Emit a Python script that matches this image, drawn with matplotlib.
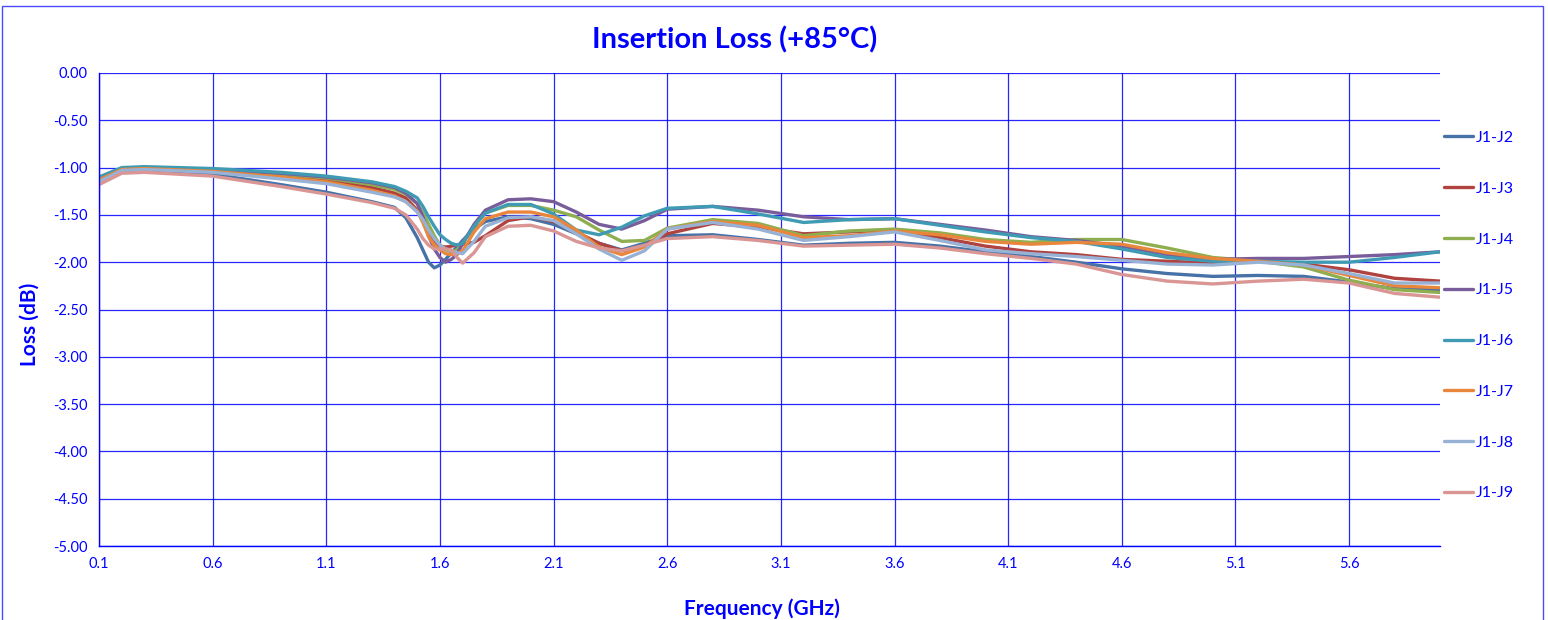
import numpy as np
import matplotlib
matplotlib.use("Agg")
import matplotlib.pyplot as plt
from matplotlib.patches import Rectangle

# Frequency points (GHz)
freq = [0.10, 0.20, 0.30, 0.60, 0.90, 1.10, 1.30, 1.40, 1.45, 1.50,
        1.525, 1.55, 1.575, 1.60, 1.625, 1.65, 1.675, 1.70, 1.75, 1.80,
        1.90, 2.00, 2.10, 2.20, 2.30, 2.40, 2.50, 2.60, 2.80, 3.00,
        3.20, 3.40, 3.60, 3.80, 4.00, 4.20, 4.40, 4.60, 4.80, 5.00,
        5.20, 5.40, 5.60, 5.80, 6.00]

# Insertion loss (dB) per path
j1_j2 = [-1.14, -1.03, -1.03, -1.07, -1.18, -1.26, -1.36, -1.42, -1.53, -1.74,
         -1.87, -2.00, -2.06, -2.03, -1.97, -1.90, -1.84, -1.77, -1.65, -1.57,
         -1.52, -1.54, -1.60, -1.70, -1.80, -1.87, -1.80, -1.72, -1.71, -1.76,
         -1.82, -1.80, -1.79, -1.83, -1.89, -1.94, -2.00, -2.07, -2.12, -2.15,
         -2.14, -2.15, -2.21, -2.28, -2.29]
j1_j3 = [-1.13, -1.02, -1.01, -1.03, -1.08, -1.13, -1.21, -1.27, -1.32, -1.45,
         -1.55, -1.68, -1.77, -1.83, -1.84, -1.83, -1.82, -1.81, -1.79, -1.72,
         -1.56, -1.52, -1.57, -1.68, -1.80, -1.88, -1.83, -1.70, -1.59, -1.63,
         -1.70, -1.68, -1.66, -1.74, -1.83, -1.89, -1.92, -1.97, -1.99, -2.01,
         -1.99, -2.02, -2.08, -2.17, -2.20]
j1_j4 = [-1.12, -1.01, -1.00, -1.02, -1.07, -1.11, -1.18, -1.23, -1.28, -1.38,
         -1.48, -1.60, -1.72, -1.82, -1.87, -1.89, -1.87, -1.80, -1.62, -1.48,
         -1.40, -1.40, -1.45, -1.52, -1.66, -1.78, -1.77, -1.64, -1.55, -1.59,
         -1.72, -1.67, -1.65, -1.69, -1.76, -1.79, -1.76, -1.76, -1.85, -1.95,
         -1.99, -2.05, -2.19, -2.29, -2.32]
j1_j5 = [-1.12, -1.01, -1.00, -1.02, -1.06, -1.10, -1.16, -1.21, -1.27, -1.38,
         -1.52, -1.72, -1.86, -1.95, -2.00, -1.97, -1.92, -1.80, -1.60, -1.45,
         -1.34, -1.33, -1.36, -1.47, -1.60, -1.65, -1.56, -1.44, -1.41, -1.45,
         -1.52, -1.55, -1.54, -1.60, -1.66, -1.73, -1.77, -1.83, -1.92, -1.97,
         -1.96, -1.96, -1.94, -1.92, -1.89]
j1_j6 = [-1.10, -1.00, -0.99, -1.01, -1.05, -1.09, -1.15, -1.20, -1.25, -1.32,
         -1.41, -1.52, -1.62, -1.71, -1.76, -1.80, -1.82, -1.80, -1.62, -1.48,
         -1.39, -1.39, -1.49, -1.66, -1.71, -1.63, -1.51, -1.43, -1.41, -1.49,
         -1.58, -1.55, -1.54, -1.61, -1.68, -1.74, -1.78, -1.86, -1.95, -1.99,
         -1.99, -2.00, -2.00, -1.95, -1.89]
j1_j7 = [-1.13, -1.02, -1.01, -1.04, -1.10, -1.15, -1.24, -1.30, -1.36, -1.46,
         -1.58, -1.73, -1.82, -1.87, -1.91, -1.92, -1.91, -1.88, -1.68, -1.54,
         -1.47, -1.47, -1.52, -1.66, -1.84, -1.92, -1.84, -1.65, -1.57, -1.61,
         -1.74, -1.72, -1.67, -1.71, -1.78, -1.81, -1.79, -1.81, -1.90, -1.96,
         -1.99, -2.03, -2.14, -2.25, -2.27]
j1_j8 = [-1.15, -1.03, -1.02, -1.05, -1.12, -1.17, -1.26, -1.31, -1.36, -1.47,
         -1.55, -1.66, -1.75, -1.82, -1.86, -1.88, -1.90, -1.91, -1.78, -1.62,
         -1.53, -1.52, -1.56, -1.70, -1.86, -1.98, -1.88, -1.65, -1.58, -1.65,
         -1.77, -1.73, -1.68, -1.77, -1.87, -1.91, -1.94, -1.98, -2.02, -2.03,
         -2.00, -2.03, -2.12, -2.22, -2.22]
j1_j9 = [-1.18, -1.06, -1.05, -1.09, -1.20, -1.28, -1.37, -1.43, -1.50, -1.65,
         -1.75, -1.82, -1.86, -1.86, -1.86, -1.87, -1.95, -2.01, -1.90, -1.73,
         -1.62, -1.61, -1.67, -1.78, -1.85, -1.88, -1.82, -1.75, -1.73, -1.77,
         -1.83, -1.82, -1.81, -1.85, -1.91, -1.96, -2.02, -2.13, -2.20, -2.23,
         -2.20, -2.18, -2.22, -2.33, -2.37]

labels = ["J1-J2", "J1-J3", "J1-J4", "J1-J5", "J1-J6", "J1-J7", "J1-J8", "J1-J9"]
series = [j1_j2, j1_j3, j1_j4, j1_j5, j1_j6, j1_j7, j1_j8, j1_j9]
colors = ["#4672A8", "#B0423F", "#8FAE50", "#795D9B", "#3F9BB3",
          "#E8863C", "#98B2D6", "#D99694"]

y_ticks = np.arange(0, -5.01, -0.5)
x_ticks = [0.1, 0.6, 1.1, 1.6, 2.1, 2.6, 3.1, 3.6, 4.1, 4.6, 5.1, 5.6]

blue = "#0000FF"
plt.rcParams["font.family"] = ["Lato", "DejaVu Sans"]

fig = plt.figure(figsize=(15.48, 6.2), dpi=100)
ax = fig.add_axes([99 / 1548, 1 - 546 / 620, (1440 - 99) / 1548, (546 - 73) / 620])

for vals, lab, col in zip(series, labels, colors):
    ax.plot(freq, vals, color=col, linewidth=2.4, label=lab,
            solid_capstyle="round", solid_joinstyle="round")

ax.set_xlim(0.1, 6.0)
ax.set_ylim(-5.0, 0.0)
ax.set_xticks(x_ticks)
ax.set_xticklabels([f"{v:.1f}" for v in x_ticks])
ax.set_yticks(y_ticks)
ax.set_yticklabels([f"{v:.2f}" for v in y_ticks])
ax.tick_params(length=0, colors=blue, labelsize=10.5, pad=8)
ax.grid(True, color=blue, linewidth=0.9, alpha=0.85)
ax.set_axisbelow(True)
for s in ["top", "right"]:
    ax.spines[s].set_visible(False)
for s in ["left", "bottom"]:
    ax.spines[s].set_color(blue)
    ax.spines[s].set_linewidth(1.0)

ax.set_xlabel("Frequency (GHz)", color=blue, fontsize=15, fontweight="bold", va="center")
ax.set_ylabel("Loss (dB)", color=blue, fontsize=15, fontweight="bold", va="center")
ax.xaxis.set_label_coords((762 - 99) / 1341, (546 - 609) / 473)
ax.yaxis.set_label_coords((30 - 99) / 1341, (546 - 324) / 473)

fig.text(735 / 1548, 1 - 40 / 620, "Insertion Loss (+85°C)", color=blue,
         fontsize=21, fontweight="bold", ha="center", va="center")

leg = ax.legend(loc="center left", bbox_to_anchor=(0.9985, 0.487), frameon=False,
                fontsize=11.5, labelspacing=2.29, handlelength=1.8,
                handletextpad=0.15, borderaxespad=0)
for t in leg.get_texts():
    t.set_color(blue)

fig.add_artist(Rectangle((2 / 1548, -0.02), (1543 - 2) / 1548, 1 - 6 / 620 + 0.02,
                         transform=fig.transFigure, fill=False,
                         edgecolor="#4A4AFF", linewidth=1.0))

fig.savefig("out.png", dpi=100)
